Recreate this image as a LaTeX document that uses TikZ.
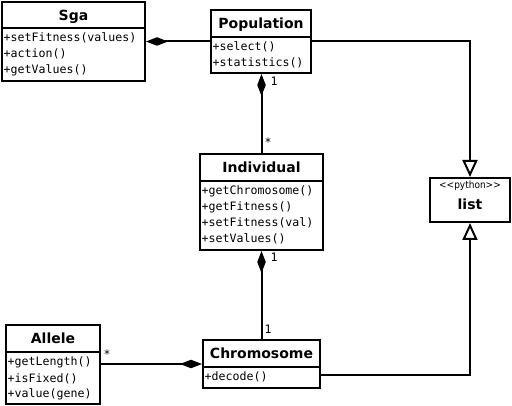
\documentclass[tikz,border=0pt]{standalone}
\usepackage{fontspec}
\setmainfont{DejaVu Sans}
\newfontfamily\monof{DejaVu Sans Mono}
\newfontfamily\stereof{DejaVu Sans Condensed}
\usetikzlibrary{arrows.meta}
\tikzset{
  box/.style={draw, line width=2pt, inner sep=0pt, fill=white},
  sepline/.style={line width=1.6pt},
  ctitle/.style={font=\fontsize{14}{16}\selectfont\bfseries, inner sep=0pt},
  meth/.style={font=\monof\fontsize{11.6}{16}\selectfont, inner sep=0pt},
  lbl/.style={font=\monof\fontsize{11.6}{14}\selectfont, inner sep=0pt},
  conn/.style={line width=2pt},
  comp/.style={conn, {Diamond[length=22pt,width=8.5pt]}-},
  gen/.style={conn, -{Triangle[open,length=17pt,width=15pt,fill=white]}},
}
\newcommand\umlclass[8]{%
  \node[box, minimum width=#4, minimum height=#5, anchor=north west] (#1) at (#2,#3) {};
  \draw[sepline] ([yshift=-#6]#1.north west) -- ([yshift=-#6]#1.north east);
  \node[ctitle, anchor=base] (#1-t) at ([yshift=-20]#1.north) {#7};
  \foreach \m [count=\i] in {#8}
    \node[meth, anchor=base west] (#1-m\i) at ([xshift=2.5, yshift={-#6-14-16*(\i-1)}]#1.north west) {\m};
}
\begin{document}
\begin{tikzpicture}[x=1pt,y=-1pt]
\useasboundingbox[fill=white] (0,0) rectangle (512,406);
\umlclass{sga}{1}{1}{143}{79}{27}{Sga}{{+setFitness(values)},{+action()},{+getValues()}}
\umlclass{pop}{210}{9}{100}{63}{28}{Population}{{+select()},{+statistics()}}
\umlclass{ind}{199}{153}{123}{96}{28}{Individual}{{+getChromosome()},{+getFitness()},{+setFitness(val)},{+setValues()}}
\umlclass{chr}{202}{339}{117}{48}{28}{Chromosome}{{+decode()}}
\umlclass{all}{5}{324}{94}{79}{28}{Allele}{{+getLength()},{+isFixed()},{+value(gene)}}
\node[box, minimum width=80, minimum height=44, anchor=north west] (lst) at (429,177) {};
\node[font=\stereof\fontsize{10}{11}\selectfont, inner sep=0pt, anchor=base] (lst-s) at ([yshift=-12]lst.north) {{<}{<}python{>}{>}};
\node[ctitle, anchor=base] (lst-t) at ([yshift=-33]lst.north) {list};
% compositions
\draw[comp] (sga) -- (pop);
\draw[comp] (ind.north |- pop.south) -- (ind.north);
\draw[comp] (chr.north |- ind.south) -- (chr.north);
\draw[comp] (chr.west) -- (all.east |- chr.west);
% generalizations
\draw[gen] (pop.east) -| (lst.north);
\draw[gen] ([yshift=-11]chr.east) -| (lst.south);
% multiplicities
\node[lbl] (m1) at (274,81) {1};
\node[lbl] (m2) at (268,142) {*};
\node[lbl] (m3) at (274,257) {1};
\node[lbl] (m4) at (268,329) {1};
\node[lbl] (m5) at (107,354) {*};
\end{tikzpicture}
\end{document}
